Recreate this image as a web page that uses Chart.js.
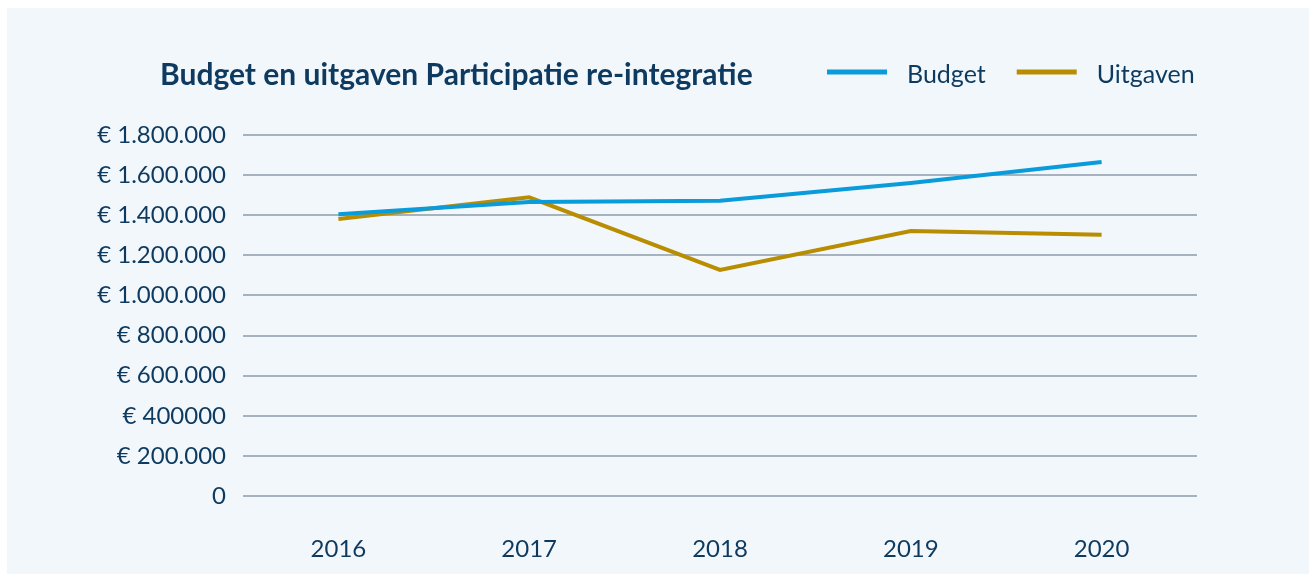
<!DOCTYPE html>
<html>
<head>
<meta charset="utf-8">
<script src="https://cdn.jsdelivr.net/npm/chart.js@4/dist/chart.umd.min.js"></script>
<style>
  html, body { margin: 0; padding: 0; background: #ffffff; }
  #wrap { position: absolute; left: 7px; top: 8px; width: 1302px; height: 566px; background: #f2f7fc; }
</style>
</head>
<body>
<div id="wrap"><canvas id="chart" width="1302" height="566"></canvas></div>
<script>
// data
const jaren = ['2016', '2017', '2018', '2019', '2020'];
const budget = [1405000, 1466000, 1472000, 1561000, 1665000];
const uitgaven = [1381000, 1489000, 1127000, 1321000, 1303000];
const yTicks = [0, 200000, 400000, 600000, 800000, 1000000, 1200000, 1400000, 1600000, 1800000];
const yTickLabels = ['0', '€ 200.000', '€ 400000', '€ 600.000', '€ 800.000', '€ 1.000.000',
                     '€ 1.200.000', '€ 1.400.000', '€ 1.600.000', '€ 1.800.000'];
const titel = 'Budget en uitgaven Participatie re-integratie';

const navy = '#0d3a5e';
const fontFam = 'Lato, "Open Sans", sans-serif';

// titel + legenda op één regel bovenaan
const kopPlugin = {
    id: 'kop',
    afterDraw(chart) {
        const ctx = chart.ctx;
        ctx.save();
        ctx.fillStyle = navy;
        ctx.textBaseline = 'middle';
        ctx.font = 'bold 30px ' + fontFam;
        ctx.fillText(titel, 153, 67);

        ctx.font = '25px ' + fontFam;
        let x = 820;
        chart.data.datasets.forEach(function (ds) {
            ctx.strokeStyle = ds.borderColor;
            ctx.lineWidth = 5;
            ctx.beginPath();
            ctx.moveTo(x, 64);
            ctx.lineTo(x + 60, 64);
            ctx.stroke();
            ctx.fillStyle = navy;
            ctx.fillText(ds.label, x + 80, 67);
            x = x + 80 + ctx.measureText(ds.label).width + 31;
        });
        ctx.restore();
    }
};

new Chart(document.getElementById('chart').getContext('2d'), {
    type: 'line',
    data: {
        labels: jaren,
        datasets: [
            {
                label: 'Budget',
                data: budget,
                borderColor: '#0a9bdb',
                backgroundColor: '#0a9bdb',
                borderWidth: 4,
                pointRadius: 0,
                tension: 0
            },
            {
                label: 'Uitgaven',
                data: uitgaven,
                borderColor: '#b88d00',
                backgroundColor: '#b88d00',
                borderWidth: 4,
                pointRadius: 0,
                tension: 0
            }
        ]
    },
    options: {
        responsive: false,
        animation: false,
        layout: { padding: { top: 127, right: 112, left: 0, bottom: 0 } },
        plugins: {
            legend: { display: false },
            title: { display: false },
            tooltip: { enabled: false }
        },
        scales: {
            x: {
                offset: true,
                grid: { display: false },
                border: { display: false },
                ticks: { color: navy, font: { family: fontFam, size: 24 }, padding: 31 },
                afterFit: function (s) { s.height = 78; }
            },
            y: {
                min: 0,
                max: 1800000,
                afterBuildTicks: function (s) { s.ticks = yTicks.map(v => ({ value: v })); },
                grid: { color: '#a7b2c1', lineWidth: 2, drawTicks: false },
                border: { display: false },
                ticks: {
                    color: navy,
                    font: { family: fontFam, size: 24 },
                    padding: 17,
                    callback: function (v) { return yTickLabels[yTicks.indexOf(v)]; }
                },
                afterFit: function (s) { s.width = 236; }
            }
        }
    },
    plugins: [kopPlugin]
});
</script>
</body>
</html>
